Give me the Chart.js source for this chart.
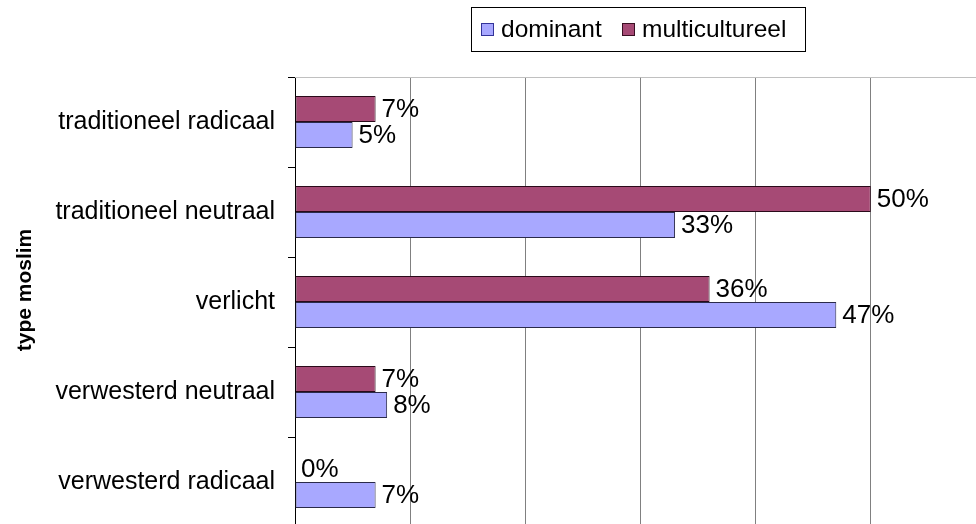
<!DOCTYPE html>
<html>
<head>
<meta charset="utf-8">
<script src="https://cdn.jsdelivr.net/npm/chart.js@4"></script>
<style>
  html, body { margin: 0; padding: 0; background: #fff; overflow: hidden; }
  #wrap { width: 1000px; height: 545px; position: relative; }
</style>
</head>
<body>
<div id="wrap"><canvas id="c" width="1000" height="545"></canvas></div>
<script>
const categories = ["traditioneel radicaal", "traditioneel neutraal", "verlicht", "verwesterd neutraal", "verwesterd radicaal"];
const multicultureel = [7, 50, 36, 7, 0];
const dominant = [5, 33, 47, 8, 7];
const seriesNames = ["dominant", "multicultureel"];
const axisTitle = "type moslim";

const FONT = '"Liberation Sans", Arial, sans-serif';
const COL_DOM = '#A8A8FF';
const COL_MUL = '#A64A75';

const labelsPlugin = {
  id: 'valueLabels',
  afterDatasetsDraw(chart) {
    const ctx = chart.ctx;
    ctx.save();
    ctx.font = '26px ' + FONT;
    ctx.fillStyle = '#000';
    ctx.textBaseline = 'middle';
    ctx.textAlign = 'left';
    chart.data.datasets.forEach((ds, di) => {
      const meta = chart.getDatasetMeta(di);
      meta.data.forEach((bar, i) => {
        ctx.fillText(ds.data[i] + '%', bar.x + 6, bar.y + 1);
      });
    });
    ctx.restore();
  }
};

const framePlugin = {
  id: 'frame',
  beforeDatasetsDraw(chart) {
    const {ctx, chartArea} = chart;
    ctx.save();
    ctx.strokeStyle = '#C0C0C0';
    ctx.lineWidth = 1;
    ctx.beginPath();
    ctx.moveTo(chartArea.left, Math.round(chartArea.top) + 0.5);
    ctx.lineTo(chartArea.right, Math.round(chartArea.top) + 0.5);
    ctx.stroke();
    ctx.restore();
  },
  afterDraw(chart) {
    const ctx = chart.ctx;
    ctx.save();
    // axis title
    ctx.save();
    ctx.translate(25, 290);
    ctx.rotate(-Math.PI / 2);
    ctx.font = 'bold 21px ' + FONT;
    ctx.fillStyle = '#000';
    ctx.textAlign = 'center';
    ctx.textBaseline = 'middle';
    ctx.fillText(axisTitle, 0, 0);
    ctx.restore();
    // legend box
    ctx.strokeStyle = '#000';
    ctx.lineWidth = 1;
    ctx.strokeRect(471.5, 7.5, 334, 44);
    const items = [
      {name: seriesNames[0], color: COL_DOM, border: '#333399', sx: 481, tx: 501},
      {name: seriesNames[1], color: COL_MUL, border: '#3a0f22', sx: 622, tx: 642}
    ];
    ctx.font = '24.5px ' + FONT;
    ctx.textBaseline = 'middle';
    items.forEach(it => {
      ctx.fillStyle = it.color;
      ctx.fillRect(it.sx, 23, 13, 13);
      ctx.strokeStyle = it.border;
      ctx.strokeRect(it.sx + 0.5, 23.5, 12, 12);
      ctx.fillStyle = '#000';
      ctx.fillText(it.name, it.tx, 30);
    });
    ctx.restore();
  }
};

new Chart(document.getElementById('c'), {
  type: 'bar',
  data: {
    labels: categories,
    datasets: [
      { label: seriesNames[1], data: multicultureel, backgroundColor: COL_MUL, borderColor: '#2a0a1a', borderWidth: 1, borderSkipped: false },
      { label: seriesNames[0], data: dominant, backgroundColor: COL_DOM, borderColor: '#2a2a4a', borderWidth: 1, borderSkipped: false }
    ]
  },
  options: {
    indexAxis: 'y',
    responsive: false,
    animation: false,
    events: [],
    layout: { padding: { top: 77, bottom: 18, right: 14, left: 0 } },
    datasets: { bar: { categoryPercentage: 0.578, barPercentage: 1.0 } },
    plugins: { legend: { display: false }, tooltip: { enabled: false } },
    scales: {
      x: {
        min: 0, max: 60,
        ticks: { display: false },
        grid: { color: '#808080', lineWidth: 1, drawTicks: false },
        border: { display: false },
        afterFit(s) { s.height = 0; s.paddingLeft = 0; s.paddingRight = 0; }
      },
      y: {
        offset: true,
        grid: { drawOnChartArea: false, color: '#000', tickLength: 7, offset: true },
        border: { color: '#000', width: 1 },
        ticks: { color: '#000', font: { size: 25, family: FONT }, padding: 13 },
        title: { display: false },
        afterFit(s) { s.width = 295; s.paddingTop = 0; s.paddingBottom = 0; }
      }
    }
  },
  plugins: [framePlugin, labelsPlugin]
});
</script>
</body>
</html>
